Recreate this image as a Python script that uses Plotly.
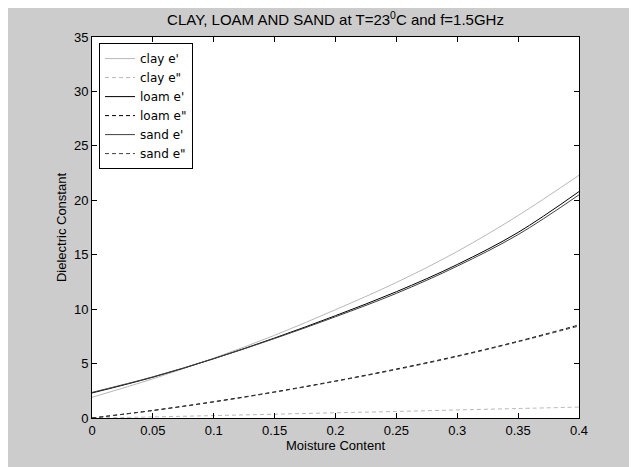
import plotly.graph_objects as go

moisture = [0, 0.05, 0.1, 0.15, 0.2, 0.25, 0.3, 0.35, 0.4]
clay_e1 = [1.9, 3.6, 5.5, 7.6, 9.95, 12.45, 15.3, 18.6, 22.3]
clay_e2 = [0.0, 0.1, 0.22, 0.35, 0.48, 0.6, 0.74, 0.87, 1.0]
loam_e1 = [2.3, 3.75, 5.45, 7.35, 9.4, 11.6, 14.1, 17.05, 20.8]
loam_e2 = [0.0, 0.7, 1.5, 2.4, 3.4, 4.5, 5.7, 7.05, 8.55]
sand_e1 = [2.35, 3.78, 5.45, 7.3, 9.3, 11.45, 13.95, 16.85, 20.5]
sand_e2 = [0.0, 0.68, 1.47, 2.37, 3.37, 4.45, 5.65, 7.0, 8.45]

x_ticks = [0, 0.05, 0.1, 0.15, 0.2, 0.25, 0.3, 0.35, 0.4]
x_tick_labels = ["0", "0.05", "0.1", "0.15", "0.2", "0.25", "0.3", "0.35", "0.4"]
y_ticks = [0, 5, 10, 15, 20, 25, 30, 35]

series = [
    ("clay e'", clay_e1, "#b8b8b8", "solid"),
    ('clay e"', clay_e2, "#b8b8b8", "4px,3px"),
    ("loam e'", loam_e1, "#000000", "solid"),
    ('loam e"', loam_e2, "#000000", "4px,3px"),
    ("sand e'", sand_e1, "#404040", "solid"),
    ('sand e"', sand_e2, "#404040", "4px,3px"),
]

fig = go.Figure()
for name, vals, color, dash in series:
    fig.add_trace(go.Scatter(
        x=moisture, y=vals, name=name, mode="lines",
        line=dict(color=color, width=1, dash=dash, shape="spline"),
    ))

font_family = "Liberation Sans, Arial, sans-serif"
axis_common = dict(
    showgrid=False, zeroline=False, showline=True, linecolor="#000000",
    linewidth=1, mirror="ticks", ticks="inside", ticklen=5,
    tickcolor="#000000", automargin=False,
    tickfont=dict(size=13, color="#000000", family=font_family),
)

fig.update_layout(
    width=637, height=467,
    paper_bgcolor="#cccccc", plot_bgcolor="#ffffff",
    margin=dict(l=84, r=66, t=29, b=57),
    title=dict(
        text="CLAY, LOAM AND SAND at T=23<sup>0</sup>C and f=1.5GHz",
        x=(84 + 487 / 2) / 637, xanchor="center", y=1 - 12 / 467, yanchor="middle",
        font=dict(size=15, color="#000000", family=font_family),
    ),
    xaxis=dict(
        range=[0, 0.4], tickvals=x_ticks, ticktext=x_tick_labels,
        title=dict(text="Moisture Content", standoff=2,
                   font=dict(size=13, color="#000000", family=font_family)),
        **axis_common,
    ),
    yaxis=dict(
        range=[0, 35], tickvals=y_ticks,
        title=dict(text="Dielectric Constant", standoff=4,
                   font=dict(size=13, color="#000000", family=font_family)),
        **axis_common,
    ),
    legend=dict(
        x=0.0144, y=0.984, xanchor="left", yanchor="top",
        bgcolor="#ffffff", bordercolor="#000000", borderwidth=1,
        font=dict(size=12, color="#000000", family="DejaVu Sans, sans-serif"),
        tracegroupgap=0, itemwidth=30,
    ),
    showlegend=True,
)

fig.write_html("out.html")
